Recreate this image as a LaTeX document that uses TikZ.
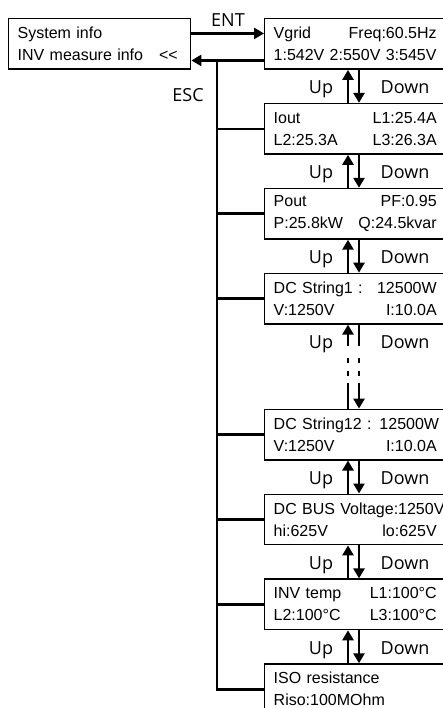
\documentclass[tikz,border=0pt]{standalone}
\usepackage{fontspec}
\setmainfont{Liberation Sans}
\newfontfamily\touchefont{Open Sans}
\usetikzlibrary{arrows.meta, positioning, calc}

\begin{document}
\begin{tikzpicture}[
		x=1pt, y=-1pt,
		node distance=33pt,
		% Styles des ecrans
		lcdBox/.style={draw=black, line width=1.4pt, inner xsep=9pt, inner ysep=6pt, text width=163pt, align=left, minimum height=50.5pt, anchor=north west, font=\fontsize{16}{22}\selectfont},
		menuBox/.style={lcdBox, text width=164pt},
		% Styles des touches et des fleches
		keyLabel/.style={font=\touchefont\fontsize{18}{20}\selectfont, inner sep=0pt, anchor=base},
		navArrow/.style={-{Triangle[length=10pt, width=11pt]}, line width=2.6pt},
		navLine/.style={line width=2.6pt},
		busLine/.style={line width=2.6pt},
		]
		
		\useasboundingbox (0,0) rectangle (443,708);
		
		
		\node[menuBox] (menu) at (8,18) {System info\\INV measure info\quad{<}{<}};
		
		
		\node[lcdBox] (vgrid) at (264,18) {Vgrid\hfill Freq:60.5Hz\\1:542V 2:550V 3:545V};
		\node[lcdBox, below=of vgrid] (iout) {Iout\hfill L1:25.4A\\L2:25.3A\hfill L3:26.3A};
		\node[lcdBox, below=of iout] (pout) {Pout\hfill PF:0.95\\P:25.8kW\hfill Q:24.5kvar};
		\node[lcdBox, below=of pout] (dcs1) {DC String1 :\hfill 12500W\\V:1250V\hfill I:10.0A};
		\node[lcdBox, below=84pt of dcs1] (dcs12) {\mbox{DC String12 : 12500W}\\V:1250V\hfill I:10.0A};
		\node[lcdBox, below=of dcs12] (dcbus) {\mbox{DC BUS Voltage:1250V}\\hi:625V\hfill lo:625V};
		\node[lcdBox, below=of dcbus] (invtemp) {INV temp\hfill L1:100°C\\L2:100°C\hfill L3:100°C};
		\node[lcdBox, below=of invtemp] (iso) {ISO resistance\\Riso:100MOhm};
		
		
		\draw[navArrow] ([yshift=10.5pt]menu.east) -- ([yshift=10.5pt]vgrid.west);
		\node[keyLabel] (entLbl) at (228,27) {ENT};
		
		\draw[navArrow] ([yshift=-16.5pt]vgrid.west) -- ([yshift=-16.5pt]menu.east);
		\node[keyLabel] (escLbl) at (188,102) {ESC};
		
		
		\coordinate (busTop) at (217,60);
		\draw[busLine] (busTop) |- (iso.west);
		\foreach \ecran in {iout, pout, dcs1, dcs12, dcbus, invtemp}
			\draw[busLine] (busTop |- \ecran.west) -- (\ecran.west);
		
		
		\foreach \haut/\bas in {vgrid/iout, iout/pout, pout/dcs1, dcs12/dcbus, dcbus/invtemp, invtemp/iso}{
			\draw[navArrow] ([xshift=84pt]\bas.north west) -- ([xshift=84pt]\haut.south west);
			\draw[navArrow] ([xshift=95pt]\haut.south west) -- ([xshift=95pt]\bas.north west);
		}
		
		\foreach \haut in {vgrid, iout, pout, dcs1, dcs12, dcbus, invtemp}{
			\node[keyLabel] (up\haut) at ([xshift=57pt, yshift=-24pt]\haut.south west) {Up};
			\node[keyLabel] (down\haut) at ([xshift=141pt, yshift=-24pt]\haut.south west) {Down};
		}
		
		
		% trou entre DC String1 et DC String12
		\coordinate (upA) at ($(dcs1.south west)+(84,21)$);
		\coordinate (upB) at ($(dcs1.south west)+(84,33)$);
		\coordinate (upC) at ($(dcs1.south west)+(84,51)$);
		\coordinate (upD) at ($(dcs1.south west)+(84,58)$);
		\coordinate (downA) at ($(dcs1.south west)+(95,21)$);
		\coordinate (downB) at ($(dcs1.south west)+(95,33)$);
		\coordinate (downC) at ($(dcs1.south west)+(95,51)$);
		\coordinate (downD) at ($(dcs1.south west)+(95,58)$);
		
		\draw[navLine] ([xshift=84pt]dcs12.north west) -- (upD);
		\draw[navLine, dash pattern=on 5pt off 8pt] (upB) -- (upC);
		\draw[navArrow] (upA) -- ([xshift=84pt]dcs1.south west);
		
		\draw[navLine] ([xshift=95pt]dcs1.south west) -- (downA);
		\draw[navLine, dash pattern=on 5pt off 8pt] (downB) -- (downC);
		\draw[navArrow] (downD) -- ([xshift=95pt]dcs12.north west);
		
		
	\end{tikzpicture}
\end{document}
